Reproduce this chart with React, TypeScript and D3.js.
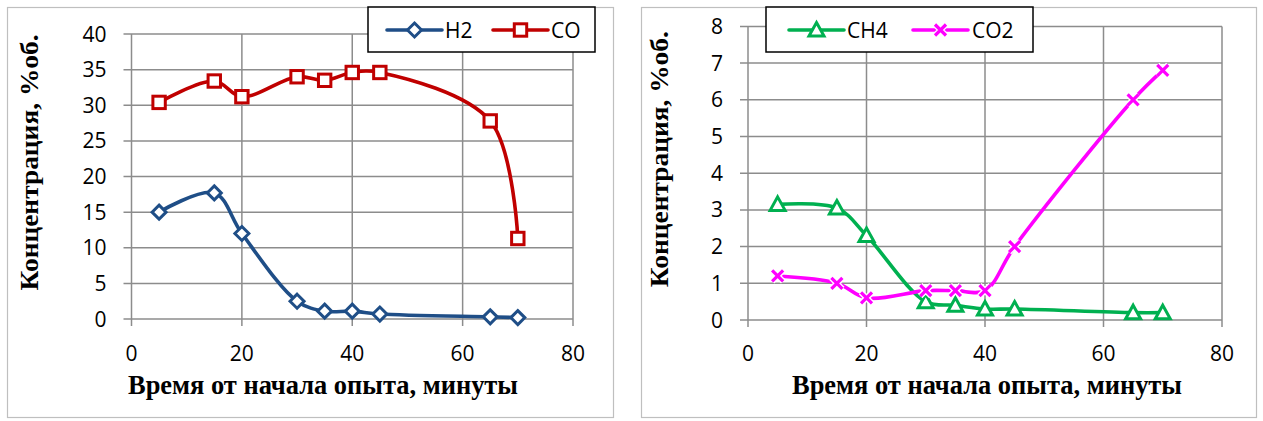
import React from "react";
import * as d3 from "d3";

const times = [5, 15, 20, 30, 35, 40, 45, 65, 70];
const h2 = [15, 17.7, 12, 2.5, 1.1, 1.1, 0.7, 0.3, 0.2];
const co = [30.4, 33.4, 31.2, 34, 33.5, 34.6, 34.6, 27.8, 11.3];
const ch4 = [3.15, 3.05, 2.3, 0.5, 0.4, 0.3, 0.3, 0.2, 0.2];
const co2 = [1.2, 1.0, 0.6, 0.8, 0.8, 0.8, 2.0, 6.0, 6.8];
const xTicks = [0, 20, 40, 60, 80];
const yTicksLeft = [0, 5, 10, 15, 20, 25, 30, 35, 40];
const yTicksRight = [0, 1, 2, 3, 4, 5, 6, 7, 8];
const xTitle = "Время от начала опыта, минуты";
const yTitle = "Концентрация, %об.";

type Series = { name: string; values: number[]; color: string; marker: string };

const tickFont = "'Open Sans', sans-serif";
const titleFont = "'Liberation Serif', 'DejaVu Serif', serif";

function Marker({ type, x, y, color }: { type: string; x: number; y: number; color: string }) {
  if (type === "diamond") {
    const r = 7;
    return (
      <path d={`M${x},${y - r}L${x + r},${y}L${x},${y + r}L${x - r},${y}Z`} fill="#fff" stroke={color} strokeWidth={3} />
    );
  }
  if (type === "square") {
    const r = 6.2;
    return <rect x={x - r} y={y - r} width={2 * r} height={2 * r} fill="#fff" stroke={color} strokeWidth={3} />;
  }
  if (type === "triangle") {
    const r = 7.5;
    return (
      <path d={`M${x},${y - r}L${x + r},${y + r * 0.8}L${x - r},${y + r * 0.8}Z`} fill="#fff" stroke={color} strokeWidth={3} />
    );
  }
  const r = 5.5;
  const d = `M${x - r},${y - r}L${x + r},${y + r}M${x + r},${y - r}L${x - r},${y + r}`;
  return (
    <g>
      <path d={d} stroke="#fff" strokeWidth={6} />
      <path d={d} stroke={color} strokeWidth={3.2} />
    </g>
  );
}

function Chart(props: {
  x0: number;
  x80: number;
  yTop: number;
  yBottom: number;
  yTicks: number[];
  yMax: number;
  series: Series[];
  legend: { x: number; w: number; items: { lx: number; tx: number }[] };
  yTitleX: number;
  xTitleCx: number;
  frameX: number;
  frameW: number;
}) {
  const { x0, x80, yTop, yBottom, yTicks, yMax, series, legend } = props;
  const xs = d3.scaleLinear().domain([0, 80]).range([x0, x80]);
  const ys = d3.scaleLinear().domain([0, yMax]).range([yBottom, yTop]);
  const line = d3
    .line<[number, number]>()
    .x((d) => xs(d[0]))
    .y((d) => ys(d[1]))
    .curve(d3.curveCatmullRom.alpha(0.5));
  const grid = "#8c8c8c";
  return (
    <g>
      <rect x={props.frameX + 0.5} y={7.5} width={props.frameW} height={410} fill="#fff" stroke="#bfbfbf" strokeWidth={1.2} />
      {yTicks.map((t) => (
        <line key={"h" + t} x1={x0 - 8} x2={x80} y1={ys(t)} y2={ys(t)} stroke={grid} strokeWidth={1.5} />
      ))}
      {xTicks.map((t) => (
        <line key={"v" + t} x1={xs(t)} x2={xs(t)} y1={yTop} y2={yBottom + 7} stroke={grid} strokeWidth={1.5} />
      ))}
      {yTicks.map((t) => (
        <text key={"yl" + t} x={x0 - 25} y={ys(t)} dy="0.36em" textAnchor="end" fontFamily={tickFont} fontSize={21} fill="#000">
          {t}
        </text>
      ))}
      {xTicks.map((t) => (
        <text key={"xl" + t} x={xs(t)} y={353} dy="0.36em" textAnchor="middle" fontFamily={tickFont} fontSize={21} fill="#000">
          {t}
        </text>
      ))}
      {series.map((s) => {
        const pts: [number, number][] = times.map((t, i) => [t, s.values[i]]);
        return (
          <g key={s.name}>
            <path d={line(pts) || ""} fill="none" stroke={s.color} strokeWidth={3.6} strokeLinejoin="round" />
            {pts.map((p, i) => (
              <Marker key={i} type={s.marker} x={xs(p[0])} y={ys(p[1])} color={s.color} />
            ))}
          </g>
        );
      })}
      <text
        x={props.xTitleCx}
        y={394}
        textAnchor="middle"
        fontFamily={titleFont}
        fontWeight="bold"
        fontSize={27}
        textLength={390}
        lengthAdjust="spacingAndGlyphs"
        fill="#000"
      >
        {xTitle}
      </text>
      <text
        transform={`translate(${props.yTitleX},${(yTop + yBottom) / 2 - 14}) rotate(-90)`}
        textAnchor="middle"
        fontFamily={titleFont}
        fontWeight="bold"
        fontSize={26}
        textLength={256}
        lengthAdjust="spacingAndGlyphs"
        fill="#000"
      >
        {yTitle}
      </text>
      <rect x={legend.x} y={7} width={legend.w} height={45} fill="#fff" stroke="#000" strokeWidth={1.5} />
      {series.map((s, i) => {
        const it = legend.items[i];
        return (
          <g key={"lg" + s.name}>
            <line x1={it.lx} x2={it.lx + 55} y1={30} y2={30} stroke={s.color} strokeWidth={3.6} strokeLinecap="round" />
            <Marker type={s.marker} x={it.lx + 27.5} y={30} color={s.color} />
            <text x={it.tx} y={30} dy="0.36em" fontFamily={tickFont} fontSize={21} fill="#000">
              {s.name}
            </text>
          </g>
        );
      })}
    </g>
  );
}

export default function App() {
  return (
    <svg width={1263} height={421} style={{ position: "absolute", left: 0, top: 0 }}>
      <rect width={1263} height={421} fill="#fff" />
      <Chart
        frameX={7}
        frameW={606}
        x0={131.5}
        x80={573}
        yTop={34}
        yBottom={319}
        yTicks={yTicksLeft}
        yMax={40}
        yTitleX={38}
        xTitleCx={323}
        series={[
          { name: "H2", values: h2, color: "#1F4E87", marker: "diamond" },
          { name: "CO", values: co, color: "#C00000", marker: "square" },
        ]}
        legend={{ x: 368, w: 227, items: [{ lx: 387, tx: 445 }, { lx: 493, tx: 551 }] }}
      />
      <Chart
        frameX={641}
        frameW={615}
        x0={748}
        x80={1222}
        yTop={26.4}
        yBottom={320}
        yTicks={yTicksRight}
        yMax={8}
        yTitleX={668}
        xTitleCx={987}
        series={[
          { name: "CH4", values: ch4, color: "#00B050", marker: "triangle" },
          { name: "CO2", values: co2, color: "#FF00FF", marker: "x" },
        ]}
        legend={{ x: 766, w: 267, items: [{ lx: 789, tx: 847 }, { lx: 913, tx: 972 }] }}
      />
    </svg>
  );
}
